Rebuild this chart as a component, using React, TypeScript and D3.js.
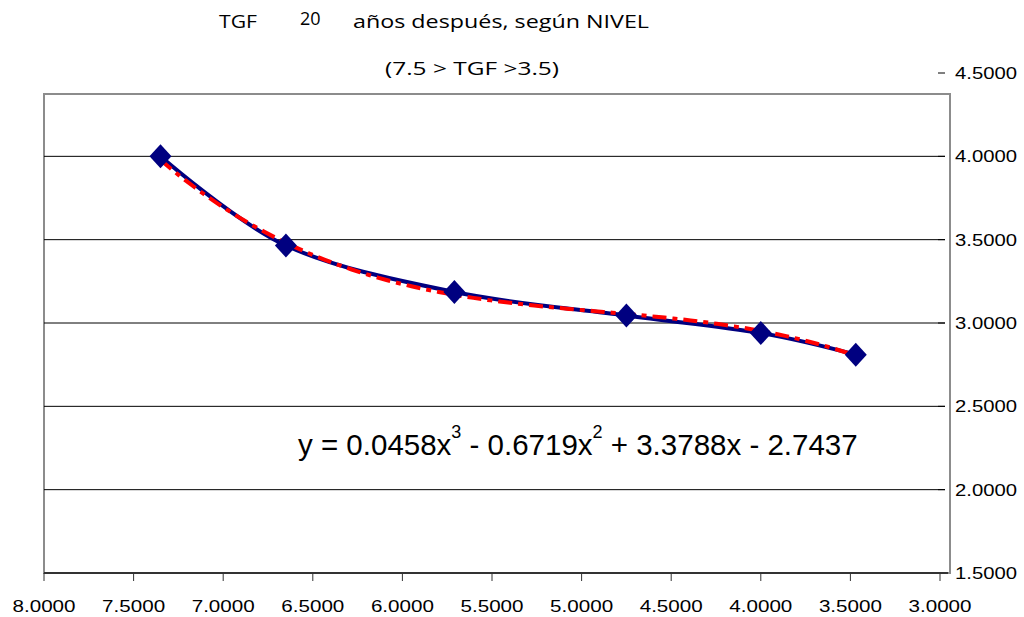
import React, { useEffect, useRef } from "react";
import * as d3 from "d3";

// TGF actual (x) vs TGF 20 años después (y)
const tgfActual = [7.35, 6.65, 5.71, 4.75, 4.0, 3.47];
const tgfDespues = [4.0, 3.465, 3.186, 3.045, 2.94, 2.81];
const xTicks = [8, 7.5, 7, 6.5, 6, 5.5, 5, 4.5, 4, 3.5, 3];
const yTicks = [1.5, 2, 2.5, 3, 3.5, 4, 4.5];
// polynomial trendline coefficients, as printed on the chart
const trendCoef = [0.0458, -0.6719, 3.3788, -2.7437];

const W = 1024;
const H = 617;
const plot = { left: 44, right: 940, top: 73, bottom: 573 };

const App = () => {
  const ref = useRef<SVGSVGElement>(null);

  useEffect(() => {
    const svg = d3.select(ref.current);
    svg.selectAll("*").remove();

    const x = d3.scaleLinear().domain([8, 3]).range([plot.left, plot.right]);
    const y = d3.scaleLinear().domain([1.5, 4.5]).range([plot.bottom, plot.top]);

    // plot area border (top edge sits below 4.5)
    const boxTop = 94;
    svg.append("rect")
      .attr("x", plot.left)
      .attr("y", boxTop)
      .attr("width", 950 - plot.left)
      .attr("height", plot.bottom - boxTop)
      .attr("fill", "white")
      .attr("stroke", "#8c8c8c")
      .attr("stroke-width", 2);

    // horizontal gridlines
    svg.append("g")
      .selectAll("line")
      .data(yTicks.filter((d) => d > 1.5 && d < 4.5))
      .join("line")
      .attr("x1", plot.left)
      .attr("x2", 945)
      .attr("y1", (d) => y(d))
      .attr("y2", (d) => y(d))
      .attr("stroke", "#000")
      .attr("stroke-width", 1);

    // right axis tick marks + labels
    const yAxis = svg.append("g").attr("font-family", "'Liberation Sans', Arial, sans-serif");
    yAxis.selectAll("line")
      .data(yTicks)
      .join("line")
      .attr("x1", 938)
      .attr("x2", 945)
      .attr("y1", (d) => y(d))
      .attr("y2", (d) => y(d))
      .attr("stroke", "#000");
    yAxis.selectAll("text")
      .data(yTicks)
      .join("text")
      .attr("x", 955)
      .attr("y", (d) => y(d) + 6)
      .attr("font-size", 17)
      .attr("textLength", 62)
      .attr("lengthAdjust", "spacingAndGlyphs")
      .text((d) => d.toFixed(4));

    // bottom axis
    const xAxis = svg.append("g").attr("font-family", "'Liberation Sans', Arial, sans-serif");
    xAxis.append("line")
      .attr("x1", plot.left)
      .attr("x2", 948)
      .attr("y1", plot.bottom)
      .attr("y2", plot.bottom)
      .attr("stroke", "#333")
      .attr("stroke-width", 2);
    xAxis.selectAll("line.tick")
      .data(xTicks)
      .join("line")
      .attr("class", "tick")
      .attr("x1", (d) => x(d))
      .attr("x2", (d) => x(d))
      .attr("y1", plot.bottom)
      .attr("y2", plot.bottom + 8)
      .attr("stroke", "#333");
    xAxis.selectAll("text")
      .data(xTicks)
      .join("text")
      .attr("x", (d) => x(d))
      .attr("y", 612)
      .attr("text-anchor", "middle")
      .attr("font-size", 17)
      .attr("textLength", 63)
      .attr("lengthAdjust", "spacingAndGlyphs")
      .text((d) => d.toFixed(4));

    const pts = tgfActual.map((v, i) => [v, tgfDespues[i]] as [number, number]);

    // smoothed data line
    const line = d3.line<[number, number]>()
      .x((d) => x(d[0]))
      .y((d) => y(d[1]))
      .curve(d3.curveCatmullRom.alpha(0));

    // polynomial trendline
    const poly = (v: number) =>
      trendCoef[0] * v * v * v + trendCoef[1] * v * v + trendCoef[2] * v + trendCoef[3];
    const xs = d3.range(0, 81).map((i) => tgfActual[0] + (i / 80) * (tgfActual[5] - tgfActual[0]));
    const trend = xs.map((v) => [v, poly(v)] as [number, number]);

    svg.append("path")
      .datum(pts)
      .attr("fill", "none")
      .attr("stroke", "#000080")
      .attr("stroke-width", 4)
      .attr("d", line);

    svg.append("path")
      .datum(trend)
      .attr("fill", "none")
      .attr("stroke", "#ff0000")
      .attr("stroke-width", 4)
      .attr("stroke-dasharray", "14,6,5,6")
      .attr("d", d3.line<[number, number]>().x((d) => x(d[0])).y((d) => y(d[1])));

    // diamond markers
    svg.append("g")
      .selectAll("path")
      .data(pts)
      .join("path")
      .attr("transform", (d) => `translate(${x(d[0])},${y(d[1])})`)
      .attr("d", "M0,-12L11,0L0,12L-11,0Z")
      .attr("fill", "#000080");

    // trendline equation
    const eq = svg.append("text")
      .attr("x", 298)
      .attr("y", 455)
      .attr("font-family", "'Liberation Sans', Arial, sans-serif")
      .attr("font-size", 29.5)
      .attr("fill", "#000");
    eq.append("tspan").text("y = 0.0458x");
    eq.append("tspan").attr("font-size", 18).attr("dy", -17).text("3");
    eq.append("tspan").attr("dy", 17).text(" - 0.6719x");
    eq.append("tspan").attr("font-size", 18).attr("dy", -17).text("2");
    eq.append("tspan").attr("dy", 17).text(" + 3.3788x - 2.7437");

    // titles
    const tf = "'Open Sans', 'Noto Sans', sans-serif";
    svg.append("text")
      .attr("x", 219).attr("y", 28)
      .attr("font-family", tf).attr("font-size", 19)
      .attr("textLength", 38)
      .attr("lengthAdjust", "spacingAndGlyphs")
      .text("TGF");
    svg.append("text")
      .attr("x", 300).attr("y", 25)
      .attr("font-family", tf).attr("font-size", 18)
      .text("20");
    svg.append("text")
      .attr("x", 353).attr("y", 28)
      .attr("font-family", tf).attr("font-size", 19)
      .attr("textLength", 296)
      .attr("lengthAdjust", "spacingAndGlyphs")
      .text("años después, según NIVEL");
    svg.append("text")
      .attr("x", 385).attr("y", 75)
      .attr("font-family", tf).attr("font-size", 19)
      .attr("textLength", 174)
      .attr("lengthAdjust", "spacingAndGlyphs")
      .text("(7.5 > TGF >3.5)");
  }, []);

  return (
    <svg
      ref={ref}
      width={W}
      height={H}
      style={{ position: "absolute", left: 0, top: 0, background: "white" }}
    />
  );
};

export default App;
